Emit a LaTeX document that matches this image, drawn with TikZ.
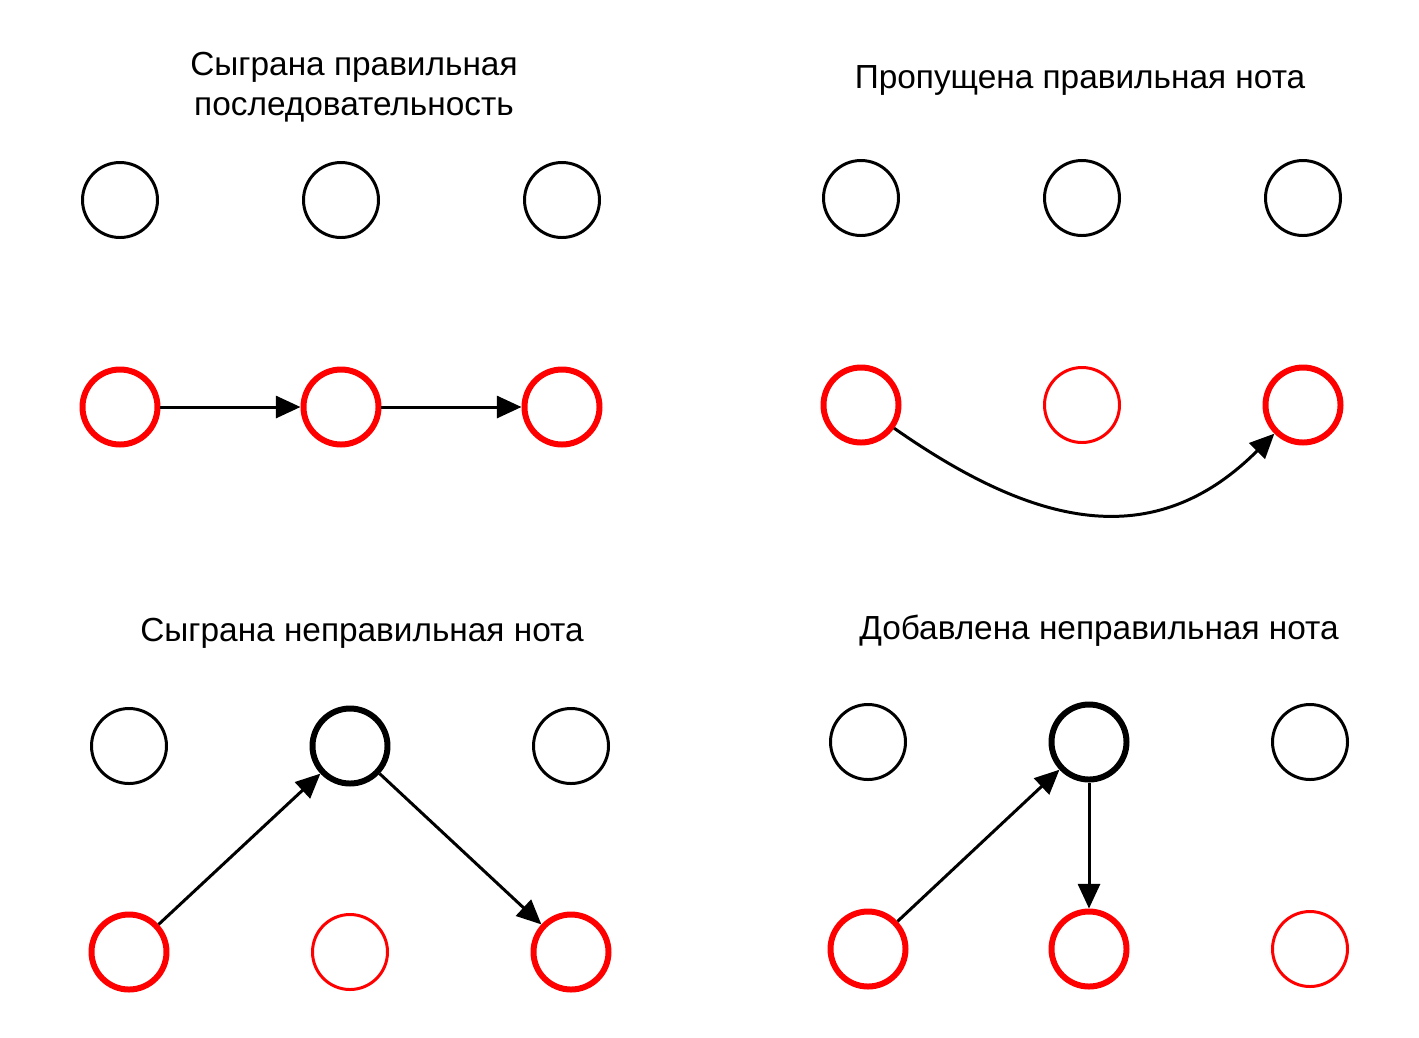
\documentclass[tikz,border=0pt]{standalone}
\usepackage{fontspec}
\setmainfont{Liberation Sans}
\usetikzlibrary{arrows.meta}
\tikzset{
  ->, % all connectors are directed
  >={Triangle[length=14pt,width=12.5pt]}, % filled triangle heads
  every edge/.append style={line width=1.7pt}, % connector thickness
  node distance=4.42cm, % distance between two notes in a row
  tone/.style={circle, draw, line width=1.7pt, minimum size=1.5cm}, % expected note
  wrong/.style={tone, line width=3.4pt}, % wrongly played note
  skipped/.style={tone, draw=red}, % note that was not played
  played/.style={tone, draw=red, line width=3.4pt}, % note that was played
  title/.style={font=\fontsize{19}{22.8}\selectfont, align=center}, % panel captions
}
\begin{document}
\begin{tikzpicture}
      \useasboundingbox (0,0) rectangle (28.38,-20.74);

      % correct sequence
      \node[title] (ta) at (7.08,-1.74) {Сыграна правильная\\последовательность};
      \node[tone] (a1) at (2.4,-4.0) {};
      \node[tone, right of=a1] (a2) {};
      \node[tone, right of=a2] (a3) {};
      \node[played] (a4) at (2.4,-8.14) {};
      \node[played, right of=a4] (a5) {};
      \node[played, right of=a5] (a6) {};

      % skipped note
      \node[title] (tb) at (21.6,-1.6) {Пропущена правильная нота};
      \node[tone] (b1) at (17.22,-3.96) {};
      \node[tone, right of=b1] (b2) {};
      \node[tone, right of=b2] (b3) {};
      \node[played] (b4) at (17.22,-8.1) {};
      \node[skipped, right of=b4] (b5) {};
      \node[played, right of=b5] (b6) {};

      % wrong note
      \node[title] (tc) at (7.24,-12.66) {Сыграна неправильная нота};
      \node[tone] (c1) at (2.58,-14.92) {};
      \node[wrong, right of=c1] (c2) {};
      \node[tone, right of=c2] (c3) {};
      \node[played] (c4) at (2.58,-19.04) {};
      \node[skipped, right of=c4] (c5) {};
      \node[played, right of=c5] (c6) {};

      % extra note
      \node[title] (td) at (21.98,-12.62) {Добавлена неправильная нота};
      \node[tone] (d1) at (17.36,-14.84) {};
      \node[wrong, right of=d1] (d2) {};
      \node[tone, right of=d2] (d3) {};
      \node[played] (d4) at (17.36,-18.98) {};
      \node[played, right of=d4] (d5) {};
      \node[skipped, right of=d5] (d6) {};

      \draw
      (a4) edge (a5)
      (a5) edge (a6)
      (b4) edge[out=-35, in=-135, looseness=1.15] (b6)
      (c4) edge (c2)
      (c2) edge (c6)
      (d4) edge (d2)
      (d2) edge (d5)
      ;
\end{tikzpicture}
\end{document}
